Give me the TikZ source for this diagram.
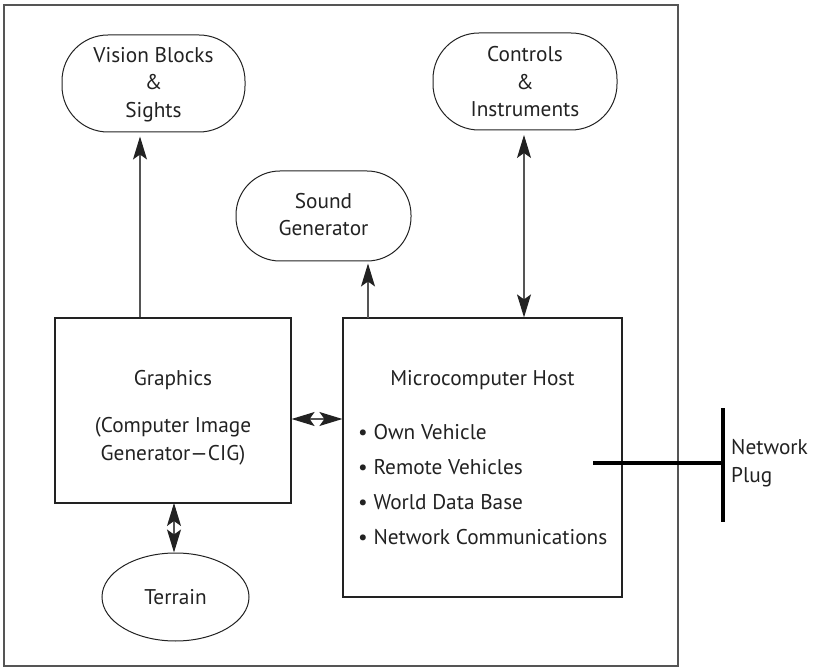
\documentclass[tikz,border=0pt]{standalone}
\usepackage{fontspec}
\setmainfont{PT Sans}
\usetikzlibrary{arrows.meta,shapes.geometric}
\definecolor{ink}{HTML}{222222}
\definecolor{shaft}{HTML}{555555}
\tikzset{
  lbl/.style={font=\fontsize{21.3}{27.5}\selectfont, text=ink, align=center, inner sep=0pt},
  pill/.style={draw=ink, line width=1pt, rounded corners=46pt, inner sep=0pt},
  blk/.style={draw=ink, line width=1.2pt, inner sep=0pt},
  arr/.style={draw=shaft, line width=1.1pt, -{Stealth[length=23pt,width=14pt,inset=5pt,color=ink]}},
  darr/.style={draw=shaft, line width=1.1pt, {Stealth[length=23pt,width=14pt,inset=5pt,color=ink]}-{Stealth[length=23pt,width=14pt,inset=5pt,color=ink]}},
  plug/.style={draw=black, line width=4pt}
}
\begin{document}
\begin{tikzpicture}[x=1pt,y=-1pt]
\useasboundingbox (0,0) rectangle (814,668);
% outer frame
\draw[draw=shaft, line width=1.6pt] (4,5) rectangle (678,666);
% nodes
\node[pill, minimum width=183pt, minimum height=97pt] (vision) at (153.5,83.5) {};
\node[lbl] (visiont) at (153.5,84.5) {Vision Blocks\\\&\\Sights};
\node[pill, minimum width=184pt, minimum height=97pt] (controls) at (525,81.5) {};
\node[lbl] (controlst) at (525,82) {Controls\\\&\\Instruments};
\node[pill, rounded corners=44pt, minimum width=175pt, minimum height=90pt] (sound) at (323.5,216) {};
\node[lbl] (soundt) at (323.5,214.5) {Sound\\Generator};
\node[blk, minimum width=236pt, minimum height=185pt] (graphics) at (173,410.5) {};
\node[lbl] (graphicst) at (173,380) {Graphics};
\node[lbl] (cigt) at (173,441.5) {(Computer Image\\Generator---CIG)};
\node[blk, minimum width=279pt, minimum height=279pt] (micro) at (482.5,457.5) {};
\node[lbl] (microt) at (482.5,380) {Microcomputer Host};
\node[lbl, align=left, anchor=west, font=\fontsize{21.3}{35}\selectfont] (bullets) at (358,485) {\textbullet\ Own Vehicle\\\textbullet\ Remote Vehicles\\\textbullet\ World Data Base\\\textbullet\ Network Communications};
\node[draw=ink, line width=1pt, ellipse, minimum width=147pt, minimum height=88pt, inner sep=0pt] (terrain) at (175.5,597) {};
\node[lbl] (terraint) at (175.5,597) {Terrain};
% connectors
\draw[arr, shorten >=4pt] (graphics.north -| vision.south) ++(-13.5,0) coordinate (g1) -- (g1 |- vision.south);
\draw[arr, shorten >=2pt] (368,318) coordinate (s1) -- (s1 |- sound.south);
\draw[darr, shorten <=5pt] (524,130) coordinate (c1) -- (c1 |- micro.north);
\draw[darr] (graphics.east |- 0,419) -- (micro.west |- 0,419);
\draw[darr] (174,503) coordinate (t1) -- (t1 |- terrain.north);
% network plug
\coordinate (pa) at (593,463);
\coordinate (pb) at (723,463);
\coordinate (ptop) at (723,408);
\coordinate (pbot) at (723,522);
\draw[plug] (pa) -- (pb);
\draw[plug] (ptop) -- (pbot);
\node[lbl, align=left, anchor=west] (plugt) at (731,463) {Network\\Plug};
\end{tikzpicture}
\end{document}
